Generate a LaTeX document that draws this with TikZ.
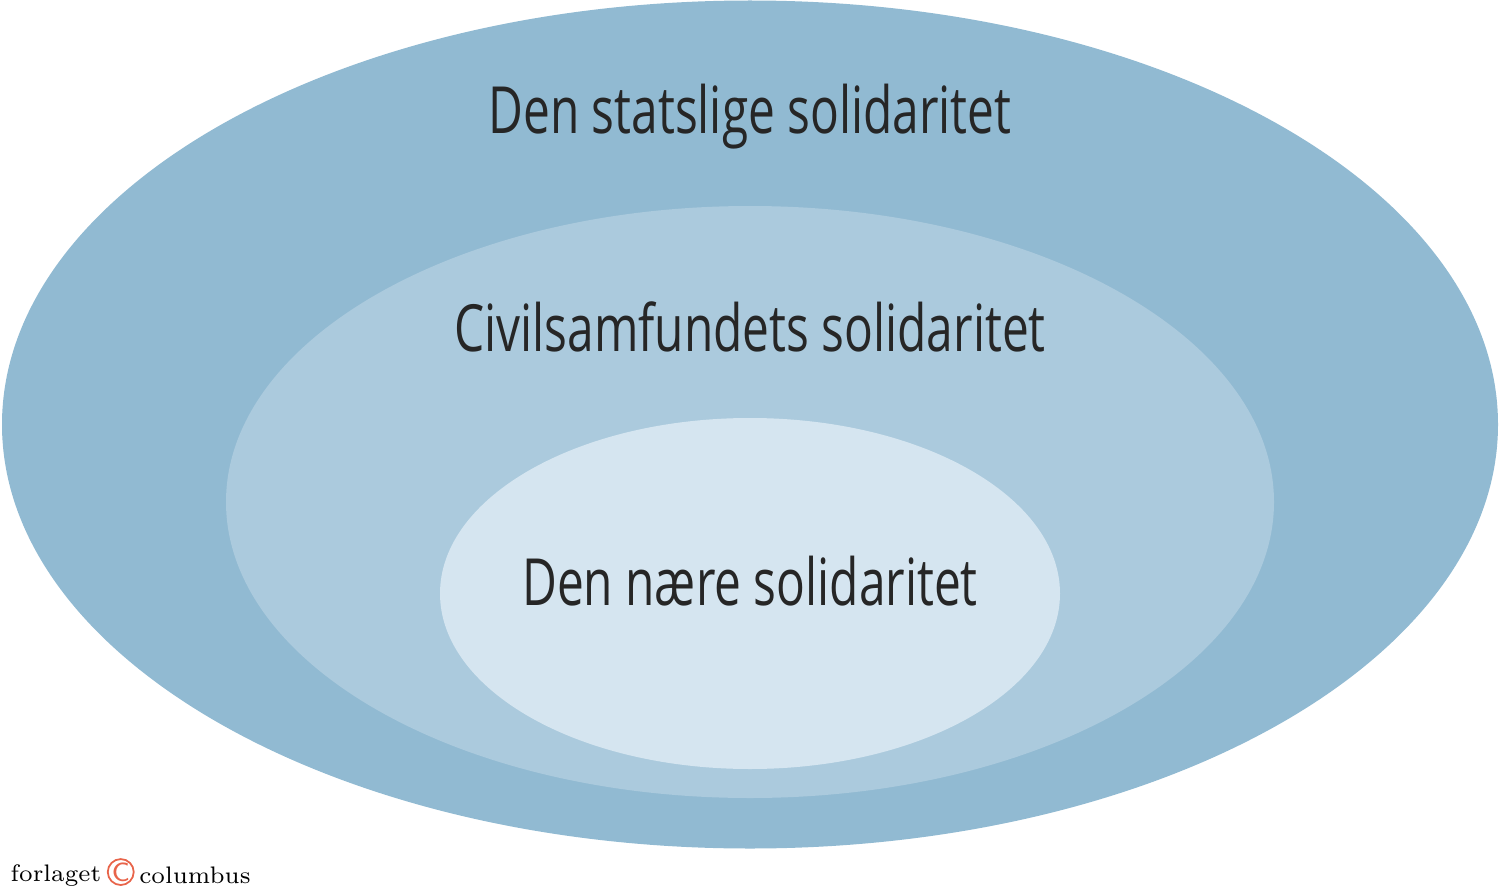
\documentclass[tikz,border=0pt]{standalone}
\usepackage{fontspec}
\usetikzlibrary{positioning}
\newfontfamily\labelfont[FakeStretch=0.735]{Open Sans}
\definecolor{outerblue}{HTML}{91BAD2}
\definecolor{middleblue}{HTML}{ABCADD}
\definecolor{innerblue}{HTML}{D5E5F0}
\definecolor{logored}{HTML}{E8644A}
\begin{document}
\begin{tikzpicture}[x=0.01cm,y=-0.01cm, line join=round, line cap=round,
  level/.style={font=\labelfont\fontsize{18.5}{22}\selectfont, text=black!85, anchor=base, inner sep=0pt}]
\useasboundingbox (0,0) rectangle (1500,891);
% three rings
\fill[outerblue] (750,424.5) ellipse [x radius=748, y radius=424];
\fill[middleblue] (750,502) ellipse [x radius=524, y radius=296];
\fill[innerblue] (750,593.5) ellipse [x radius=310, y radius=175.5];
\node[level] (statslig) at (750,134) {Den statslige solidaritet};
\node[level] (civil) at (750,351) {Civilsamfundets solidaritet};
\node[level] (naer) at (750,605) {Den nære solidaritet};
% logo
\node[anchor=base west, inner sep=0pt, font=\fontsize{6.8}{9}\selectfont] (forlag) at (10,881) {forlaget};
\node[circle, draw=logored, line width=0.5pt, text=logored, inner sep=0pt, minimum size=0.25cm,
  font=\sffamily\fontsize{7.5}{8}\selectfont, right=0.05cm of forlag.east, yshift=0.03cm] (copy) {C};
\node[anchor=west, inner sep=0pt, font=\fontsize{6.8}{9}\selectfont, right=0.04cm of copy.east, yshift=-0.03cm] (columbus) {columbus};
\end{tikzpicture}
\end{document}
